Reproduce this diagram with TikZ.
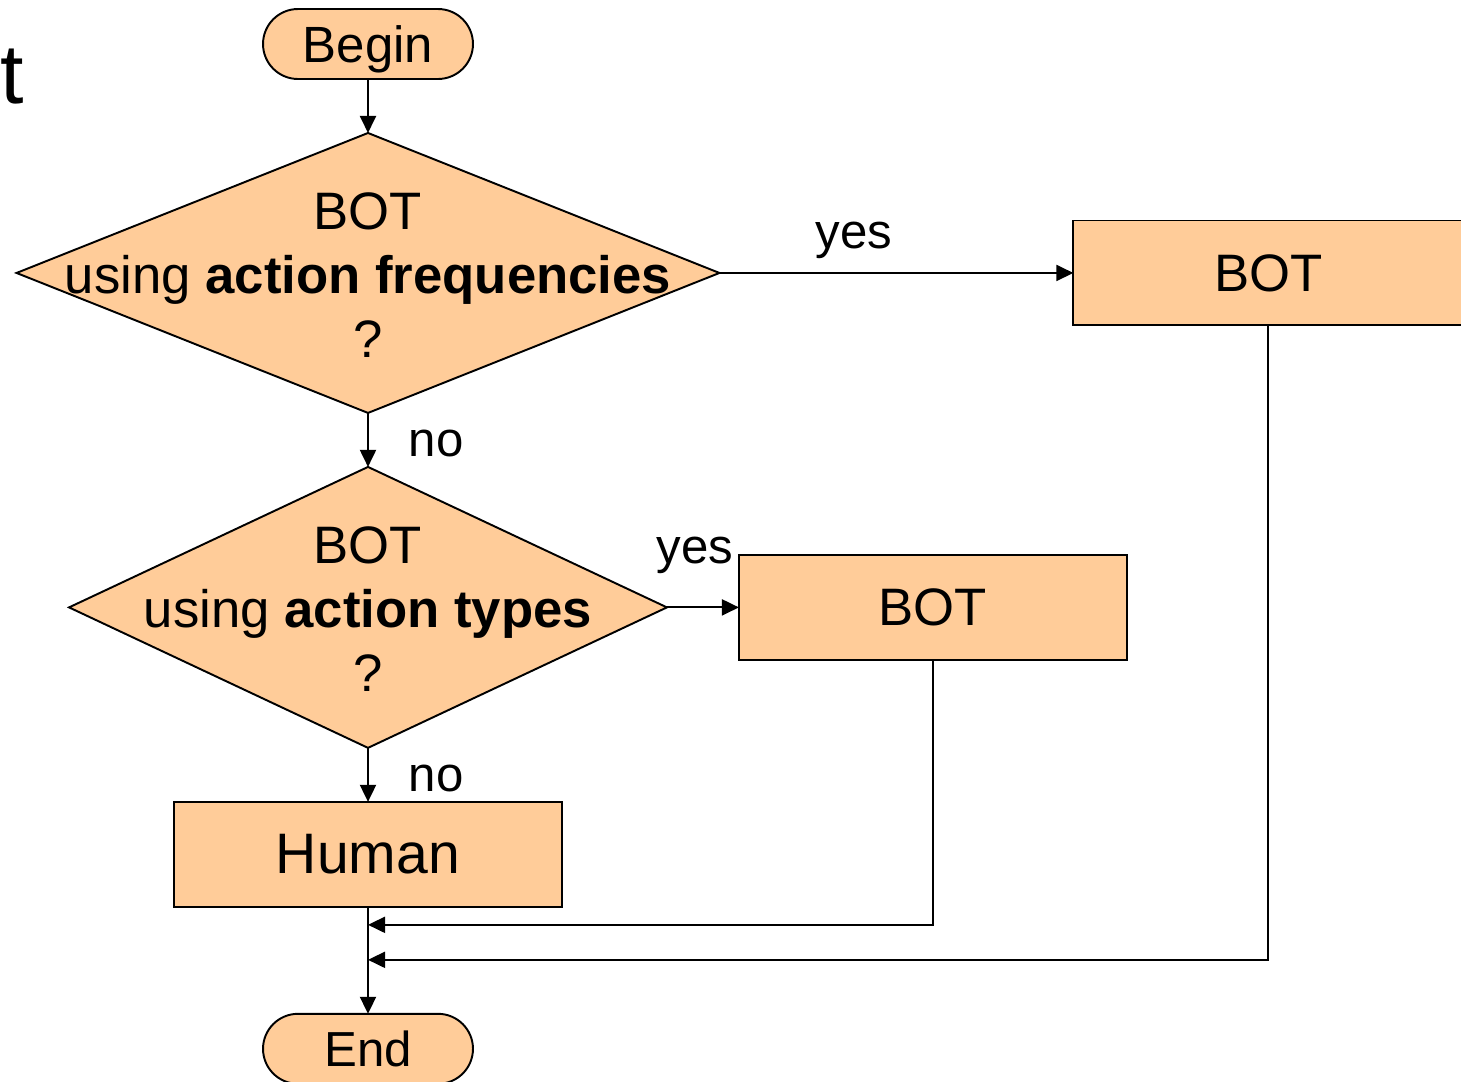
\documentclass[tikz,border=0pt]{standalone}
\usepackage{fontspec}
\setmainfont{Liberation Sans}
\usepackage{xcolor}
\definecolor{fpeach}{HTML}{FFCC99}
\usetikzlibrary{shapes.geometric,arrows.meta,positioning,calc}

\begin{document}
\begin{tikzpicture}[x=0.02cm,y=-0.02cm,node distance=1.08cm,
  box/.style={rectangle,draw=black,fill=fpeach,line width=1.1pt,outer sep=0pt,minimum width=7.76cm,minimum height=2.1cm,inner sep=0pt,text depth=0pt,font=\fontsize{30}{36}\selectfont},
  term/.style={box,rounded corners=0.7cm,minimum width=4.2cm,minimum height=1.4cm,font=\fontsize{29}{32}\selectfont},
  dec/.style={diamond,draw=black,fill=fpeach,line width=1.1pt,outer sep=0pt,inner sep=0pt},
  dtxt/.style={align=center,inner sep=0pt,yshift=-0.04cm,font=\fontsize{30}{36.4}\selectfont},
  lbl/.style={inner sep=0pt,font=\fontsize{28}{30}\selectfont},
  arr/.style={-{Triangle[length=3.4mm,width=3.2mm]},line width=1.1pt}]
\useasboundingbox (0,0) rectangle (1461,1082);
\clip (0,0) rectangle (1461,1082);
% leftover of the slide title
\node[anchor=base west,inner sep=0pt,font=\fontsize{48}{50}\selectfont] (ttl) at (0,103) {t};
\node[term] (begin) at (368,44) {Begin};
\node[dec,minimum width=14.06cm,minimum height=5.6cm,below=of begin] (d1) {};
\node[dtxt] (d1t) at (d1) {BOT\\using \textbf{action frequencies}\\?};
\node[box,minimum width=7.8cm,right=7.08cm of d1] (bot1) {BOT};
\node[dec,minimum width=11.96cm,minimum height=5.62cm,below=of d1] (d2) {};
\node[dtxt] (d2t) at (d2) {BOT\\using \textbf{action types}\\?};
\node[box,right=1.44cm of d2] (bot2) {BOT};
\node[box,below=of d2,font=\fontsize{32.5}{36}\selectfont] (human) {Human\hspace{0.32cm}};
\node[term,below=2.14cm of human,font=\fontsize{28}{32}\selectfont] (end) {End};
\coordinate (m1) at ($(human.south)+(0,18)$);
\coordinate (m2) at ($(human.south)+(0,53)$);
\draw[arr] (begin) -- (d1);
\draw[arr] (d1) -- node[lbl,pos=0.38,above=0.26cm] {yes} (bot1);
\draw[arr] (d1) -- node[lbl,right=0.8cm,yshift=-0.08cm] {no} (d2);
\draw[arr] (d2) -- node[lbl,pos=0.39,above=0.66cm] {yes} (bot2);
\draw[arr] (d2) -- node[lbl,right=0.8cm,yshift=-0.08cm] {no} (human);
\draw[arr] (human) -- (end);
\draw[arr] (bot2) |- (m1);
\draw[arr] (bot1) |- (m2);
\end{tikzpicture}
\end{document}
